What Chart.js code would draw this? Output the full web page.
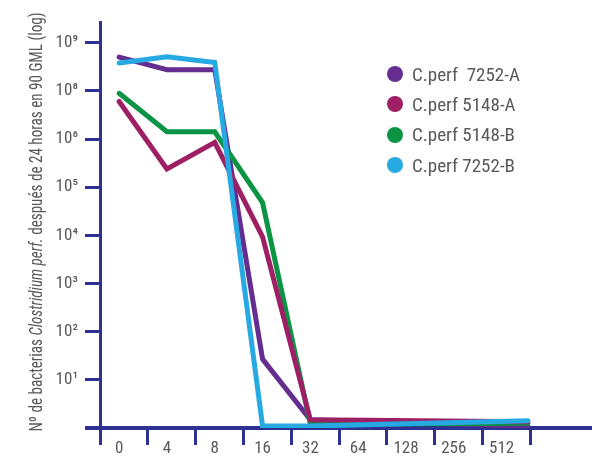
<!DOCTYPE html>
<html>
<head>
<meta charset="utf-8">
<script src="https://cdn.jsdelivr.net/npm/chart.js@4.4.0/dist/chart.umd.min.js"></script>
<style>
    html, body { margin: 0; padding: 0; background: #ffffff; }
    #wrap { position: relative; width: 592px; height: 460px; }
    #legend { position: absolute; left: 387px; top: 59px; font-family: 'Liberation Sans Narrow', 'Roboto Condensed', 'Liberation Sans', sans-serif; font-size: 19px; color: #58595b; }
    #legend .row { height: 30.3px; display: flex; align-items: center; }
    #legend .dot { width: 16px; height: 16px; border-radius: 50%; margin-right: 9px; }
</style>
</head>
<body>
<div id="wrap">
    <canvas id="lineGraph" width="592" height="460"></canvas>
    <div id="legend"></div>
</div>
<script>
const doses = ['0', '4', '8', '16', '32', '64', '128', '256', '512'];
const yTickLabels = ['', '10¹', '10²', '10³', '10⁴', '10⁵', '10⁶', '10⁸', '10⁹'];
const seriesNames = ['C.perf  7252-A', 'C.perf 5148-A', 'C.perf 5148-B', 'C.perf 7252-B'];
// values in axis steps (one step per labelled tick); the last value is where the line ends
const perf7252A = [7.70, 7.44, 7.44, 1.43, 0.17, null, null, null, 0.04];
const perf5148A = [6.78, 5.38, 5.93, 3.97, 0.17, null, null, null, 0.13];
const perf5148B = [6.95, 6.15, 6.15, 4.68, 0.08, null, null, null, 0.10];
const perf7252B = [7.58, 7.71, 7.59, 0.04, 0.04, null, null, null, 0.15];
const titleParts = [
    { text: 'Nº de bacterias ', italic: false },
    { text: 'Clostridium perf.', italic: true },
    { text: ' después de 24 horas en 90 GML (log)', italic: false }
];

const navy = '#2e3192';
const grey = '#58595b';
const fontFamily = "'Liberation Sans Narrow', 'Roboto Condensed', 'Liberation Sans', sans-serif";

// dose labels sit between the ticks; the lines run on to the last tick
function xPos(i) {
    return i === doses.length - 1 ? 8.95 : i + 0.4;
}

function toPoints(values) {
    return values.map((v, i) => ({ x: xPos(i), y: v }));
}

const lineStyle = {
    borderWidth: 5,
    pointRadius: 0,
    pointHoverRadius: 0,
    fill: false,
    tension: 0,
    spanGaps: true,
    borderJoinStyle: 'miter',
    borderCapStyle: 'round'
};

const titlePlugin = {
    id: 'yTitle',
    afterDraw(chart) {
        const ctx = chart.ctx;
        ctx.save();
        ctx.translate(42, 222);
        ctx.rotate(-Math.PI / 2);
        ctx.fillStyle = grey;
        ctx.textBaseline = 'alphabetic';
        let total = 0;
        const widths = titleParts.map(p => {
            ctx.font = (p.italic ? 'italic ' : '') + '18px ' + fontFamily;
            const w = ctx.measureText(p.text).width;
            total += w;
            return w;
        });
        // squeeze along the text to the length of the original condensed title
        const s = Math.min(1, 419 / total);
        ctx.scale(s, 1);
        let x = -total / 2;
        titleParts.forEach((p, i) => {
            ctx.font = (p.italic ? 'italic ' : '') + '18px ' + fontFamily;
            ctx.fillText(p.text, x, 0);
            x += widths[i];
        });
        ctx.restore();
    }
};

const ctx = document.getElementById('lineGraph').getContext('2d');

const chart = new Chart(ctx, {
    type: 'line',
    data: {
        datasets: [
            { label: seriesNames[0], data: toPoints(perf7252A), borderColor: '#662d91', backgroundColor: '#662d91', order: 3, ...lineStyle },
            { label: seriesNames[1], data: toPoints(perf5148A), borderColor: '#9e1f63', backgroundColor: '#9e1f63', order: 1, ...lineStyle },
            { label: seriesNames[2], data: toPoints(perf5148B), borderColor: '#0b9444', backgroundColor: '#0b9444', order: 2, ...lineStyle },
            { label: seriesNames[3], data: toPoints(perf7252B), borderColor: '#27aae1', backgroundColor: '#27aae1', order: 0, ...lineStyle }
        ]
    },
    options: {
        responsive: false,
        animation: false,
        layout: { padding: { top: 22, right: 0, left: 0, bottom: 0 } },
        scales: {
            x: {
                type: 'linear',
                min: 0,
                max: 10.29,
                afterBuildTicks: axis => {
                    const t = [];
                    for (let i = 0; i <= 9; i++) t.push({ value: i });
                    doses.forEach((d, i) => t.push({ value: i + 0.4 }));
                    axis.ticks = t.sort((a, b) => a.value - b.value);
                },
                afterFit: axis => { axis.height = 32; },
                border: { display: true, color: navy, width: 4 },
                grid: {
                    drawOnChartArea: false,
                    drawTicks: true,
                    tickLength: 17,
                    lineWidth: 3,
                    color: c => (c.tick && Number.isInteger(c.tick.value)) ? navy : 'rgba(0,0,0,0)'
                },
                ticks: {
                    autoSkip: false,
                    maxRotation: 0,
                    padding: -6,
                    color: grey,
                    font: { family: fontFamily, size: 17 },
                    callback: function(value) {
                        if (Number.isInteger(value)) return '';
                        return doses[Math.round(value - 0.4)];
                    }
                }
            },
            y: {
                type: 'linear',
                min: 0,
                max: 8.43,
                afterBuildTicks: axis => {
                    axis.ticks = yTickLabels.map((l, i) => ({ value: i }));
                },
                afterFit: axis => { axis.width = 100; },
                border: { display: true, color: navy, width: 3 },
                grid: {
                    drawOnChartArea: false,
                    drawTicks: true,
                    tickLength: 15,
                    lineWidth: c => (c.tick && c.tick.value === 0) ? 4 : 3,
                    color: navy
                },
                ticks: {
                    padding: 7,
                    color: grey,
                    font: { family: fontFamily, size: 17 },
                    callback: value => yTickLabels[value]
                }
            }
        },
        plugins: {
            legend: { display: false },
            tooltip: { enabled: false }
        }
    },
    plugins: [titlePlugin]
});

// legend keeps the original order of the series
const legendEl = document.getElementById('legend');
chart.data.datasets.forEach(ds => {
    const row = document.createElement('div');
    row.className = 'row';
    const dot = document.createElement('span');
    dot.className = 'dot';
    dot.style.background = ds.borderColor;
    const txt = document.createElement('span');
    txt.textContent = ds.label;
    txt.style.whiteSpace = 'pre';
    row.appendChild(dot);
    row.appendChild(txt);
    legendEl.appendChild(row);
});
</script>
</body>
</html>
